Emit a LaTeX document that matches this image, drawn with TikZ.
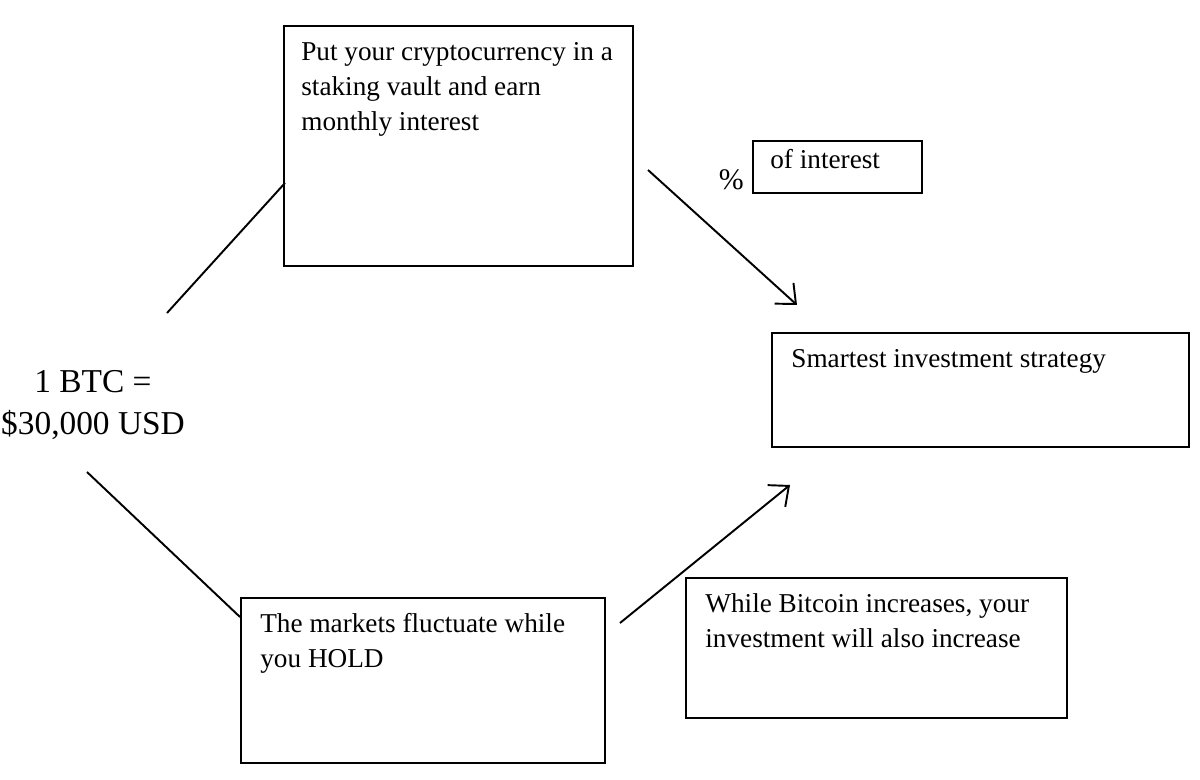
\documentclass[tikz,border=0pt]{standalone}
\usepackage{fontspec}
\setmainfont{Liberation Serif}
\usetikzlibrary{arrows.meta}
\begin{document}
\begin{tikzpicture}[x=0.02cm,y=-0.02cm,
  box/.style={draw, line width=0.9pt, rectangle, anchor=north west, inner sep=0pt},
  txt/.style={anchor=north west, align=left, inner sep=0pt, font=\fontsize{15.5}{20}\selectfont},
  link/.style={line width=1.1pt},
  tip/.style={-{Straight Barb[length=3.2mm,width=5.6mm]}}]

   \useasboundingbox (0,0) rectangle (1200,780);

   % 枠
   \node [box, minimum width=6.98cm, minimum height=4.8cm] (vault) at (283,25) {};
   \node [txt] at (301,42) {Put your cryptocurrency in a\\staking vault and earn\\monthly interest};
   \node [box, minimum width=3.38cm, minimum height=1.04cm] (rate) at (752,140) {};
   \node [txt] at (770,149) {of interest};
   \node [anchor=east, inner sep=0pt, font=\fontsize{17}{20}\selectfont] at (744,180) {\%};
   \node [box, minimum width=8.34cm, minimum height=2.28cm] (smart) at (771,332) {};
   \node [txt] at (791,349) {Smartest investment strategy};
   \node [box, minimum width=7.28cm, minimum height=3.3cm] (hold) at (240,597) {};
   \node [txt] at (260,613) {The markets fluctuate while\\you HOLD};
   \node [box, minimum width=7.62cm, minimum height=2.8cm] (rise) at (685,577) {};
   \node [txt] at (705,593) {While Bitcoin increases, your\\investment will also increase};

   \node [align=center, inner sep=0pt, font=\fontsize{19}{24}\selectfont] (btc) at (93,405) {1 BTC =\\\$30,000 USD};

   % 矢印
   \coordinate (a1) at (167,313);
   \coordinate (a2) at (285,183);
   \coordinate (b1) at (648,170);
   \coordinate (b2) at (797,305);
   \coordinate (c1) at (87,472);
   \coordinate (c2) at (240,617);
   \coordinate (d1) at (620,623);
   \coordinate (d2) at (790,485);
   \draw [link] (a1)--(a2);
   \draw [link, tip] (b1)--(b2);
   \draw [link] (c1)--(c2);
   \draw [link, tip] (d1)--(d2);

\end{tikzpicture}
\end{document}
